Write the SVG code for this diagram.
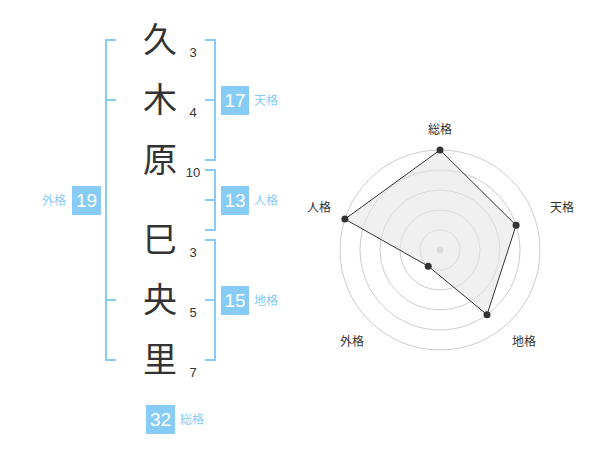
<svg xmlns="http://www.w3.org/2000/svg" width="600" height="470" viewBox="0 0 600 470">
<style>
.kanji{font-family:"Noto Sans CJK JP","Noto Sans CJK SC",sans-serif;font-size:34px;fill:#333;text-anchor:middle}
.num{font-family:"Liberation Sans",Arial,sans-serif;font-size:13px;fill:#333;text-anchor:middle}
.br{fill:none;stroke:#86ccf7;stroke-width:2}
.box{fill:#86ccf7}
.bt{font-family:"Liberation Sans",Arial,sans-serif;font-size:19px;fill:#fff;text-anchor:middle}
.lb{font-family:"Noto Sans CJK JP","Noto Sans CJK SC",sans-serif;font-size:12px;fill:#86ccf7}
.rl{font-family:"Noto Sans CJK JP","Noto Sans CJK SC",sans-serif;font-size:12px;fill:#333;text-anchor:middle}
.ring{fill:none;stroke:#ccc;stroke-width:1}
.pt{fill:#333}
</style>
<rect width="600" height="470" fill="#fff"/>
<g id="names">
<g id="c1"><text class="kanji" x="160" y="52">久</text><text class="num" x="193" y="57">3</text></g>
<g id="c2"><text class="kanji" x="160" y="112">木</text><text class="num" x="193" y="117">4</text></g>
<g id="c3"><text class="kanji" x="160" y="172">原</text><text class="num" x="193" y="177">10</text></g>
<g id="c4"><text class="kanji" x="160" y="252">巳</text><text class="num" x="193" y="257">3</text></g>
<g id="c5"><text class="kanji" x="160" y="312">央</text><text class="num" x="193" y="317">5</text></g>
<g id="c6"><text class="kanji" x="160" y="372">里</text><text class="num" x="193" y="377">7</text></g>
</g>
<g id="brackets">
<path class="br" d="M116 40H106V360H116M106 100H116M106 300H116"/>
<path class="br" d="M205 40H215V160H205M215 100H205"/>
<path class="br" d="M205 170H215V230H205M215 200H205"/>
<path class="br" d="M205 240H215V360H205M215 300H205"/>
</g>
<g id="tenkaku"><rect class="box" x="221" y="86" width="28" height="29"/><text class="bt" x="235" y="107">17</text><text class="lb" x="254" y="105">天格</text></g>
<g id="jinkaku"><rect class="box" x="221" y="186" width="28" height="29"/><text class="bt" x="235" y="207">13</text><text class="lb" x="254" y="205">人格</text></g>
<g id="chikaku"><rect class="box" x="221" y="286" width="28" height="29"/><text class="bt" x="235" y="307">15</text><text class="lb" x="254" y="305">地格</text></g>
<g id="gaikaku"><rect class="box" x="72" y="186" width="29" height="29"/><text class="bt" x="86.5" y="207">19</text><text class="lb" x="66" y="205" text-anchor="end">外格</text></g>
<g id="soukaku"><rect class="box" x="146" y="405" width="29" height="29"/><text class="bt" x="160.5" y="426">32</text><text class="lb" x="180" y="424">総格</text></g>
<g id="radar">
<circle class="ring" cx="440" cy="250" r="20"/>
<circle class="ring" cx="440" cy="250" r="40"/>
<circle class="ring" cx="440" cy="250" r="60"/>
<circle class="ring" cx="440" cy="250" r="80"/>
<circle class="ring" cx="440" cy="250" r="100"/>
<circle cx="440" cy="250" r="3.5" fill="#ccc"/>
<polygon points="440,150 516.1,225.3 487,314.7 428.2,266.2 344.9,219.1" fill="#e6e6e6" fill-opacity="0.6" stroke="#333" stroke-width="1"/>
<circle class="pt" cx="440" cy="150" r="3.5"/>
<circle class="pt" cx="516.1" cy="225.3" r="3.5"/>
<circle class="pt" cx="487" cy="314.7" r="3.5"/>
<circle class="pt" cx="428.2" cy="266.2" r="3.5"/>
<circle class="pt" cx="344.9" cy="219.1" r="3.5"/>
<text class="rl" x="440" y="134">総格</text>
<text class="rl" x="562" y="212">天格</text>
<text class="rl" x="524" y="346">地格</text>
<text class="rl" x="352" y="346">外格</text>
<text class="rl" x="319" y="212">人格</text>
</g>
</svg>
